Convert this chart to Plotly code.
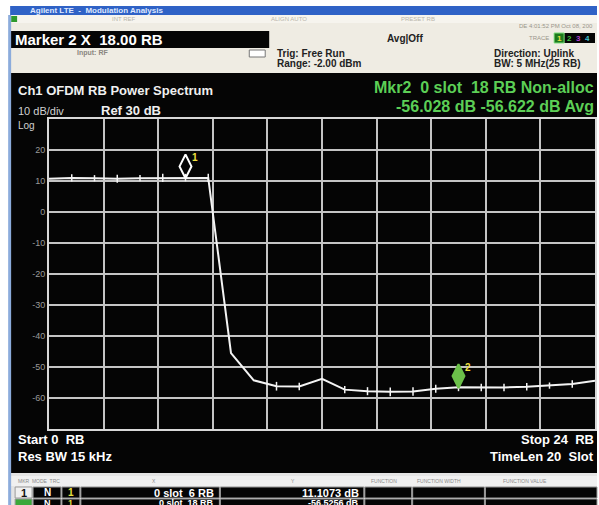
"""Agilent LTE modulation analysis screen: Ch1 OFDM RB power spectrum."""
import plotly.graph_objects as go

# ------------------------------------------------------------------ data

RB = list(range(25))
POWER_DB = [10.7, 11.0, 10.9, 10.7, 10.9, 11.0, 11.1, 11.0,
            -45.5, -54.3, -56.2, -56.3, -53.8, -57.3, -57.8, -58.0,
            -57.9, -57.0, -56.5, -56.6, -56.6, -56.4, -56.0, -55.5, -54.4]
SPREAD_DB = [0.0, 1.2, 1.0, 1.3, 1.0, 1.3, 1.2, 1.3,
             0.0, 0.0, 1.4, 1.2, 0.0, 1.2, 1.3, 1.4,
             1.4, 1.3, 1.3, 1.2, 1.2, 1.2, 1.0, 1.2, 0.0]
MARKER_RB = [6, 18]
MARKER_DB = [11.1073, -56.5256]
MARKER_NAMES = ["1", "2"]
Y_TICKS = [20, 10, 0, -10, -20, -30, -40, -50, -60]

FONT = "Arial, Liberation Sans, sans-serif"
W, H = 599, 505
L, R, T, B = 49, 2, 119, 76   # plot area in pixels
PW, PH = W - L - R, H - T - B


def px(x):
    return (x - L) / PW


def py(y):
    return (H - B - y) / PH


def rect(x0, y0, x1, y1, fill, line=None):
    return dict(type="rect", xref="paper", yref="paper", layer="below",
                x0=px(x0), x1=px(x1), y0=py(y1), y1=py(y0),
                fillcolor=fill, line=dict(width=0 if line is None else 1, color=line or fill))


def text(x, y, s, size=11, color="white", anchor="left", bold=True):
    return dict(xref="paper", yref="paper", x=px(x), y=py(y), text=f"<b>{s}</b>" if bold else s,
                showarrow=False, xanchor=anchor, yanchor="middle",
                font=dict(family=FONT, size=size, color=color))


# ------------------------------------------------------------------ figure

fig = go.Figure()
fig.add_trace(go.Scatter(
    x=RB, y=POWER_DB, mode="lines",
    line=dict(color="#f4f4f4", width=2),
    error_y=dict(type="data", array=SPREAD_DB, color="#f4f4f4", thickness=1.5, width=0),
    hoverinfo="skip", showlegend=False,
))
# marker diamonds sit just above the trace point
offset = 3.6
fig.add_trace(go.Scatter(
    x=MARKER_RB, y=[v + offset for v in MARKER_DB], mode="markers",
    marker=dict(symbol=["diamond-tall-open", "diamond-tall"], size=17,
                color=["#ffffff", "#6cc04a"], line=dict(color=["#ffffff", "#6cc04a"], width=2)),
    hoverinfo="skip", showlegend=False,
))

shapes = [
    rect(0, 0, W, 6, "#ffffff"),
    rect(10, 6, W, 15, "#2f62c6"),
    rect(10, 15, W, 73, "#efece3"),
    rect(10, 15, W, 23, "#f6f4ee"),
    rect(11, 16, 17, 22, "#2e9a2e"),
    rect(10, 31, 270, 48, "#050505"),
    rect(250, 50, 266, 57, "#ffffff", "#777777"),
    rect(556, 33, 597, 43, "#050505"),
    rect(556, 33, 566, 43, "#1d7a1d", "#7fe07f"),
    rect(10, 73, W, 473, "#050505"),
    rect(10, 473, W, H, "#e4e4e4"),
    rect(10, 476, W, 486, "#f0f0f0"),
    rect(8, 15, 11, H, "#8cacdc"),
]
# marker table rows
cells = [(15, 32), (33, 61), (62, 80), (81, 220), (221, 365), (366, 413), (414, 486), (487, W)]
for row, (y0, y1) in enumerate([(487, 498), (499, 511)]):
    for i, (x0, x1) in enumerate(cells):
        if i == 0:
            fill = "#f0f0f0" if row == 0 else "#3aa83a"
        else:
            fill = "#050505"
        shapes.append(rect(x0, y0, x1, y1, fill, "#9a9a9a"))

ann = [
    text(28, 10.5, "Agilent LTE  -  Modulation Analysis", 8, "#dfe8ff"),
    text(110, 19, "INT REF", 6, "#b8b4aa", bold=False),
    text(270, 19, "ALIGN AUTO", 6, "#b8b4aa", bold=False),
    text(400, 19, "PRESET RB", 6, "#b8b4aa", bold=False),
    text(597, 26, "DE 4:01:52 PM Oct 08, 200", 6, "#9a968c", "right", bold=False),
    text(13, 40, "Marker 2 X  18.00 RB", 15),
    text(75, 53, "Input: RF", 7, "#8a8680"),
    text(276, 54, "Trig: Free Run", 10, "#222222"),
    text(276, 64, "Range: -2.00 dBm", 10, "#222222"),
    text(386, 38, "Avg|Off", 10, "#222222"),
    text(553, 38, "TRACE", 6, "#9a968c", "right", bold=False),
    text(561, 38, "1", 8, "#e8e040", "center"),
    text(571, 38, "2", 8, "#40c040", "center"),
    text(580, 38, "3", 8, "#b040d0", "center"),
    text(589, 38, "4", 8, "#40c0d0", "center"),
    text(494, 53, "Direction: Uplink", 10, "#222222"),
    text(494, 64, "BW: 5 MHz(25 RB)", 10, "#222222"),
    text(16, 90, "Ch1 OFDM RB Power Spectrum", 13, "#f0f0f0"),
    text(598, 88, "Mkr2  0 slot  18 RB Non-alloc", 16, "#5ccf56", "right"),
    text(598, 107, "-56.028 dB -56.622 dB Avg", 16, "#5ccf56", "right"),
    text(16, 111, "10 dB/div", 11, "#d0d0d0", bold=False),
    text(99, 111, "Ref 30 dB", 13, "#f0f0f0"),
    text(16, 125, "Log", 10, "#d0d0d0", bold=False),
    text(16, 439, "Start 0  RB", 13),
    text(16, 456, "Res BW 15 kHz", 13),
    text(598, 439, "Stop 24  RB", 13, "white", "right"),
    text(598, 456, "TimeLen 20  Slot", 13, "white", "right"),
    text(16, 481, "MKR  MODE  TRC", 5, "#8a8a8a", bold=False),
    text(150, 481, "X", 5, "#8a8a8a", bold=False),
    text(290, 481, "Y", 5, "#8a8a8a", bold=False),
    text(370, 481, "FUNCTION", 5, "#8a8a8a", bold=False),
    text(416, 481, "FUNCTION WIDTH", 5, "#8a8a8a", bold=False),
    text(503, 481, "FUNCTION VALUE", 5, "#8a8a8a", bold=False),
    text(24, 492.5, "1", 11, "#111111", "center"),
    text(47, 492.5, "N", 10, "white", "center"),
    text(71, 492.5, "1", 10, "#e8e040", "center"),
    text(217, 492.5, "0 slot  6 RB", 11, "white", "right"),
    text(362, 492.5, "11.1073 dB", 11, "white", "right"),
    text(47, 503, "N", 9, "white", "center"),
    text(71, 503, "1", 9, "#e8e040", "center"),
    text(217, 503, "0 slot  18 RB", 9, "white", "right"),
    text(362, 503, "-56.5256 dB", 9, "white", "right"),
]
for name, xv, yv in zip(MARKER_NAMES, MARKER_RB, MARKER_DB):
    ann.append(dict(x=xv, y=yv + offset, text=f"<b>{name}</b>", showarrow=False,
                    xshift=9, yshift=9, font=dict(family=FONT, size=10, color="#f0e040")))

axis_style = dict(showgrid=True, gridcolor="#c4c4c4", gridwidth=1.5, zeroline=False,
                  showline=True, linecolor="#d8d8d8", linewidth=2, mirror=True, ticks="")
fig.update_layout(
    width=W, height=H,
    margin=dict(l=L, r=R, t=T, b=B),
    paper_bgcolor="#ffffff", plot_bgcolor="#050505",
    xaxis=dict(range=[0, 24], dtick=2.4, tick0=0, showticklabels=False, **axis_style),
    yaxis=dict(range=[-70, 30], tickvals=Y_TICKS, ticktext=[str(v) for v in Y_TICKS],
               tickfont=dict(family=FONT, size=9, color="#9a9a9a"), **axis_style),
    shapes=shapes, annotations=ann,
)
# page body margin would shift the screen by 8px
fig.write_html("out.html", config={"displayModeBar": False},
               post_script="document.body.style.margin='0';")
